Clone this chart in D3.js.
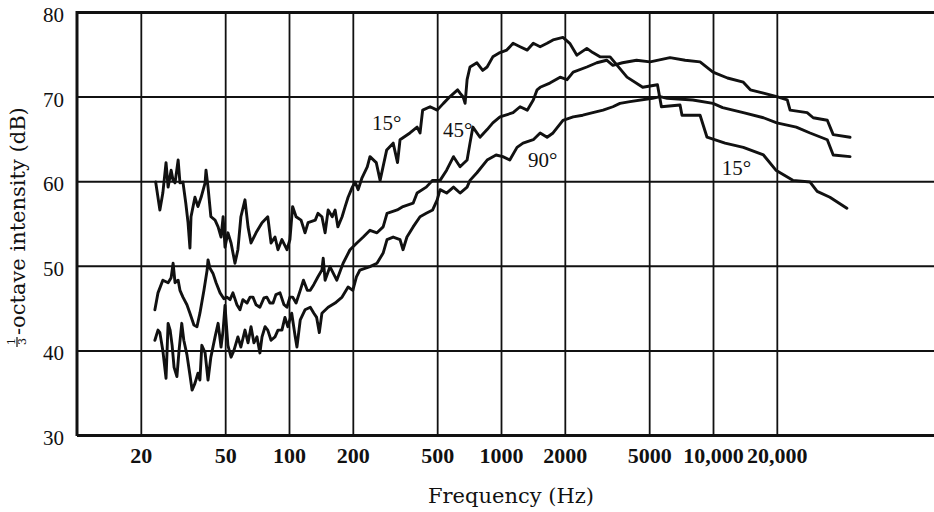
<!DOCTYPE html>
<html>
<head>
<meta charset="utf-8">
<script src="https://cdn.jsdelivr.net/npm/d3@7"></script>
<style>
  body { margin: 0; background: #fff; }
  svg { display: block; }
</style>
</head>
<body>
<script>
// tick values and labels
var xTicks = [20, 50, 100, 200, 500, 1000, 2000, 5000, 10000, 20000];
var xTickLabels = ["20", "50", "100", "200", "500", "1000", "2000", "5000", "10,000", "20,000"];
var yTicks = [30, 40, 50, 60, 70, 80];

// [frequency Hz, dB]
var curve15 = [[23.5,59.9],[24.6,56.6],[25.4,58.6],[26.3,62.2],[26.9,59.3],[27.8,61.3],[28.4,60.1],[29.0,59.8],[30.0,62.5],[30.6,59.8],[31.6,59.9],[32.6,57.4],[33.4,55.1],[34.1,52.1],[34.5,55.8],[36.0,58.1],[37.2,57.0],[38.5,58.1],[40.2,59.8],[40.6,61.3],[41.5,59.3],[42.8,55.8],[44.8,55.4],[46.3,54.6],[47.8,53.4],[48.9,55.8],[49.9,52.2],[51.5,53.9],[53.3,52.7],[55.6,50.3],[57.4,51.9],[59.3,55.8],[62.0,57.8],[64.1,54.6],[66.2,52.7],[69.9,53.9],[74.6,55.1],[79.4,55.8],[82.3,52.7],[85.9,53.4],[88.7,51.9],[92.6,53.1],[97.8,51.9],[101,53.1],[104,57.0],[108,55.8],[114,55.4],[119,53.9],[123,55.1],[133,55.4],[137,56.2],[143,55.8],[148,53.9],[153,56.6],[160,55.8],[165,56.6],[170,54.6],[178,55.8],[184,57.0],[190,58.1],[199,59.3],[205,59.9],[212,59.0],[221,60.4],[234,61.7],[241,62.9],[258,62.2],[269,60.1],[289,63.7],[310,64.5],[325,62.2],[334,64.9],[372,65.7],[402,66.4],[415,65.7],[427,68.4],[463,68.8],[500,68.4],[535,69.2],[575,70.0],[624,70.8],[641,70.4],[662,70.0],[677,69.2],[692,72.0],[714,73.5],[770,74.0],[820,73.1],[860,73.5],[915,74.7],[989,75.2],[1065,75.5],[1140,76.3],[1230,75.9],[1330,75.5],[1420,76.3],[1530,75.9],[1650,76.3],[1760,76.7],[1960,77.0],[2110,76.3],[2280,74.9],[2540,75.7],[2710,75.2],[2930,74.7],[3270,74.7],[3930,72.3],[4660,71.1],[5470,71.4],[5710,68.8],[6990,69.0],[7140,67.8],[8690,67.8],[9370,65.2],[11400,64.5],[13900,64.0],[17300,63.1],[19800,61.3],[23800,60.1],[28700,59.9],[31000,58.8],[35600,58.1],[42800,56.8]];

var curve45 = [[23.3,44.8],[24.1,46.8],[25.4,48.3],[26.9,48.0],[27.8,48.6],[28.4,50.3],[29.0,48.0],[30.0,48.3],[30.6,47.1],[31.6,46.3],[33.0,45.4],[34.1,44.4],[35.6,43.0],[36.8,42.8],[38.0,44.4],[39.7,47.1],[41.1,49.5],[41.5,50.7],[42.4,49.7],[43.8,49.1],[45.3,48.0],[47.3,46.8],[49.3,46.1],[50.9,46.3],[52.7,46.0],[54.4,46.8],[56.8,45.4],[58.7,44.8],[60.6,46.0],[63.4,45.6],[65.5,46.3],[67.6,46.3],[69.9,45.4],[72.9,45.1],[76.2,46.2],[78.6,46.3],[81.3,45.6],[84.1,45.6],[86.8,46.6],[90.7,46.8],[94.7,45.4],[97.8,45.1],[101,46.3],[104,46.3],[108,45.6],[113,47.1],[117,48.3],[122,47.1],[126,47.1],[131,47.8],[137,48.7],[143,49.5],[145,50.9],[148,48.3],[156,49.9],[168,48.3],[180,50.3],[194,51.9],[209,52.7],[224,53.4],[241,54.2],[260,53.9],[278,54.6],[290,56.2],[324,56.6],[345,57.0],[385,57.4],[402,58.6],[444,59.3],[476,60.1],[516,60.1],[554,61.3],[597,62.9],[641,61.7],[692,62.5],[714,64.5],[737,66.4],[796,65.2],[860,66.1],[915,66.9],[989,67.6],[1140,68.1],[1230,68.8],[1330,68.4],[1420,69.6],[1480,70.8],[1530,71.1],[1700,71.6],[1900,72.3],[2050,72.0],[2190,72.9],[2540,73.5],[2830,74.0],[3150,74.3],[3370,73.7],[3740,74.0],[4360,74.3],[5050,74.1],[6270,74.6],[7390,74.3],[8690,74.1],[10000,72.9],[11700,72.2],[13900,71.7],[15000,70.8],[17300,70.4],[20000,70.0],[22400,69.6],[23100,68.4],[27800,68.1],[29700,67.5],[34600,67.2],[36900,65.5],[44300,65.2]];

var curve90 = [[23.3,41.2],[24.1,42.4],[24.6,42.1],[25.4,40.0],[26.3,36.7],[26.9,43.2],[27.5,42.4],[28.1,40.6],[28.7,38.0],[29.6,36.9],[30.3,40.0],[31.2,43.2],[31.9,41.2],[33.0,39.5],[34.1,37.1],[34.9,35.3],[36.0,36.1],[37.2,37.3],[38.0,36.5],[38.8,40.6],[40.2,39.7],[41.5,36.5],[42.8,39.2],[44.8,41.6],[46.3,43.2],[47.8,40.4],[48.9,42.4],[49.9,45.3],[51.5,40.6],[53.3,39.2],[55.0,40.0],[57.4,41.6],[59.3,40.4],[62.0,42.4],[64.1,40.9],[66.2,42.8],[68.3,40.9],[70.6,41.6],[72.9,39.7],[74.6,41.6],[77.1,42.8],[79.4,42.4],[82.3,41.2],[85.9,41.6],[88.7,42.4],[92.6,42.4],[95.7,43.9],[98.8,42.8],[103,44.4],[107,41.6],[109,40.4],[113,43.6],[119,44.8],[126,45.1],[131,44.4],[135,43.9],[139,42.1],[143,44.4],[153,45.1],[165,45.6],[178,46.3],[190,47.5],[200,47.1],[208,48.7],[216,49.5],[241,49.9],[260,50.3],[278,51.5],[290,53.1],[310,53.4],[334,53.1],[345,51.9],[360,53.4],[385,54.6],[415,55.8],[444,56.2],[476,56.6],[500,57.8],[516,59.0],[554,58.6],[597,59.3],[641,58.6],[692,59.3],[714,60.1],[770,61.0],[860,62.5],[948,63.1],[1020,62.9],[1100,62.5],[1190,64.0],[1270,64.5],[1420,64.9],[1530,65.7],[1650,65.2],[1760,65.7],[1960,67.2],[2190,67.6],[2430,67.8],[2710,68.1],[3030,68.4],[3370,68.8],[3640,69.2],[4060,69.4],[5180,69.8],[5630,70.0],[6080,69.8],[8030,69.6],[10000,69.2],[11100,68.7],[13900,68.1],[17300,67.5],[20000,66.9],[24700,66.4],[28700,65.7],[34600,64.9],[36900,63.1],[44300,62.9]];

// curve labels anchored at (frequency, dB)
var labelText = ["15°", "45°", "90°", "15°"];
var labelFreq = [246, 532, 1340, 11000];
var labelDb = [66.0, 65.2, 61.7, 60.7];

(function() {
    var width = 934, height = 512;
    var margin = { top: 12, left: 77, bottom: 77 };
    var ink = "#111";

    var svg = d3.select("body").append("svg")
        .attr("width", width)
        .attr("height", height)
        .style("background", "#fff");

    var x = d3.scaleLog().domain([10, 100000]).range([margin.left, margin.left + 4 * 212]);
    var y = d3.scaleLinear().domain([30, 80]).range([height - margin.bottom, margin.top]);
    var plotH = y(30) - y(80);

    // vertical grid + frequency labels
    var gx = svg.append("g")
        .attr("transform", "translate(0," + y(30) + ")")
        .call(d3.axisBottom(x)
            .tickValues(xTicks)
            .tickSize(-plotH)
            .tickPadding(12)
            .tickFormat(function(d, i) { return xTickLabels[i]; }));
    gx.select(".domain").remove();
    gx.selectAll(".tick line").attr("stroke", ink).attr("stroke-width", 1.8);
    gx.selectAll(".tick text")
        .attr("fill", ink)
        .style("font-family", "'Liberation Serif', 'Times New Roman', serif")
        .style("font-weight", "bold")
        .style("font-size", "22px");

    // horizontal grid + dB labels
    var gy = svg.append("g")
        .attr("transform", "translate(" + x(10) + ",0)")
        .call(d3.axisLeft(y)
            .tickValues(yTicks)
            .tickSize(-(width - x(10)))
            .tickPadding(13));
    gy.select(".domain").remove();
    gy.selectAll(".tick line")
        .attr("stroke", ink)
        .attr("stroke-width", function(d) { return (d === 30 || d === 80) ? 2.8 : 2.0; });
    gy.selectAll(".tick text")
        .attr("fill", ink)
        .attr("dy", "0.45em")
        .style("font-family", "'Liberation Serif', 'Times New Roman', serif")
        .style("font-size", "21px");

    // left border
    svg.append("line")
        .attr("x1", x(10)).attr("x2", x(10))
        .attr("y1", y(80) - 1).attr("y2", y(30) + 1)
        .attr("stroke", ink)
        .attr("stroke-width", 3);

    var line = d3.line()
        .x(function(d) { return x(d[0]); })
        .y(function(d) { return y(d[1]); });

    svg.selectAll(".curve")
        .data([curve15, curve45, curve90])
        .enter().append("path")
        .attr("class", "curve")
        .attr("d", line)
        .attr("fill", "none")
        .attr("stroke", ink)
        .attr("stroke-width", 2.9)
        .attr("stroke-linejoin", "round")
        .attr("stroke-linecap", "round");

    svg.selectAll(".clabel")
        .data(labelText)
        .enter().append("text")
        .attr("class", "clabel")
        .attr("x", function(d, i) { return x(labelFreq[i]); })
        .attr("y", function(d, i) { return y(labelDb[i]); })
        .attr("fill", ink)
        .style("font-family", "'Liberation Serif', 'Times New Roman', serif")
        .style("font-size", "21px")
        .text(function(d) { return d; });

    // axis titles
    svg.append("text")
        .attr("x", 511)
        .attr("y", 503)
        .attr("text-anchor", "middle")
        .attr("fill", ink)
        .style("font-family", "'DejaVu Serif', serif")
        .style("font-size", "21px")
        .text("Frequency (Hz)");

    var yt = svg.append("g")
        .attr("transform", "translate(25,347) rotate(-90)")
        .attr("fill", ink)
        .style("font-family", "'DejaVu Serif', serif");
    yt.append("text").attr("x", 2).attr("y", -10).style("font-size", "11px").text("1");
    yt.append("line")
        .attr("x1", 0).attr("x2", 10)
        .attr("y1", -8).attr("y2", -8)
        .attr("stroke", ink).attr("stroke-width", 1.2);
    yt.append("text").attr("x", 2).attr("y", 1).style("font-size", "11px").text("3");
    yt.append("text").attr("x", 12).attr("y", 0).style("font-size", "21px").text("-octave intensity (dB)");
})();
</script>
</body>
</html>
